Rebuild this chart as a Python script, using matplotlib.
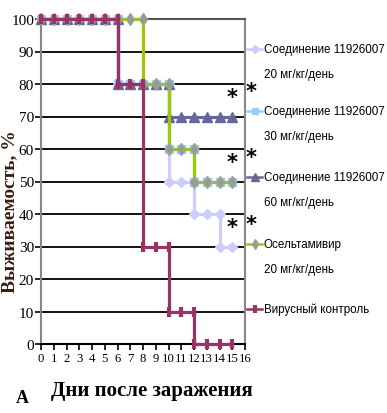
import matplotlib
matplotlib.use('Agg')
import matplotlib.pyplot as plt
from matplotlib.lines import Line2D

plt.rcParams['font.family'] = ['Liberation Serif', 'DejaVu Serif']

# survival, % of animals alive on each day after infection
days = [0, 1, 2, 3, 4, 5, 6, 7, 8, 9, 10, 11, 12, 13, 14, 15]
comp_20 = [100, 100, 100, 100, 100, 100, 80, 80, 80, 80, 50, 50, 40, 40, 30, 30]
comp_30 = [100, 100, 100, 100, 100, 100, 80, 80, 80, 80, 60, 60, 50, 50, 50, 50]
comp_60 = [100, 100, 100, 100, 100, 100, 80, 80, 80, 80, 70, 70, 70, 70, 70, 70]
oselt = [100, 100, 100, 100, 100, 100, 100, 100, 80, 80, 60, 60, 50, 50, 50, 50]
virus = [100, 100, 100, 100, 100, 100, 80, 80, 30, 30, 10, 10, 0, 0, 0, 0]

labels = ['Соединение 11926007\n20 мг/кг/день',
          'Соединение 11926007\n30 мг/кг/день',
          'Соединение 11926007\n60 мг/кг/день',
          'Осельтамивир\n20 мг/кг/день',
          'Вирусный контроль']
series = [comp_20, comp_30, comp_60, oselt, virus]
starred_plot = [0, 2, 3]     # series with * at the end of the curve
starred_legend = [1, 2, 3]   # legend entries with * above them

styles = [
    dict(color='#CCCCFF', marker='D', ms=5, mfc='#CCCCFF', mec='#CCCCFF'),
    dict(color='#99CCFF', marker='s', ms=6, mfc='#99CCFF', mec='#99CCFF'),
    dict(color='#666699', marker='^', ms=7, mfc='#666699', mec='#666699'),
    dict(color='#99CC00', marker='d', ms=6.5, mfc='#999999', mec='#9aa68a'),
    dict(color='#993366', marker='|', ms=7, mew=3, mfc='#993366', mec='#993366'),
]


def step_points(x, y):
    # survival curve: vertical drop on the day, point at both ends of the drop
    xs, ys = [x[0]], [y[0]]
    for i in range(1, len(x)):
        if y[i] != y[i - 1]:
            xs.append(x[i])
            ys.append(y[i - 1])
        xs.append(x[i])
        ys.append(y[i])
    return xs, ys


W, H = 387, 414
fig = plt.figure(figsize=(W / 100, H / 100), dpi=100)
ax = fig.add_axes([41 / W, 1 - 345 / H, 204 / W, 325 / H])

for vals, st in zip(series, styles):
    xs, ys = step_points(days, vals)
    ax.plot(xs, ys, lw=2.3, clip_on=False, zorder=3, **st)

for i in starred_plot:
    ax.annotate('*', xy=(days[-1], series[i][-1]), xytext=(0, 7),
                textcoords='offset points', ha='center', va='bottom',
                fontsize=15, fontweight='bold', family='DejaVu Sans')

ax.set_xlim(0, 16)
ax.set_ylim(0, 100)
ax.set_xticks(range(0, 17))
ax.set_yticks(range(0, 101, 10))
ax.yaxis.grid(True, color='black', lw=1.3)
ax.set_axisbelow(True)
for s in ['left', 'right', 'top']:
    ax.spines[s].set_color('#888888')
    ax.spines[s].set_linewidth(1.5)
ax.spines['top'].set_color('#555555')
ax.spines['bottom'].set_color('black')
ax.spines['bottom'].set_linewidth(1.5)
ax.tick_params(direction='out', length=4, width=1.2, color='black', pad=1)
ax.tick_params(axis='y', labelsize=11)
ax.tick_params(axis='x', labelsize=9.2, pad=2)

fig.text(10 / W, 1 - 212 / H, 'Выживаемость, %', rotation=90, ha='center',
         va='center', fontsize=14, fontweight='bold', color='#3a1e10')
fig.text(152 / W, 1 - 391 / H, 'Дни после заражения', ha='center',
         va='center', fontsize=15, fontweight='bold')
fig.text(22 / W, 1 - 399 / H, 'A', ha='center', va='center',
         fontsize=13, fontweight='bold')

# legend drawn at the right, marker aligned with the first text line
entry_y = [50, 112, 178, 245, 310]
for i, (lab, st) in enumerate(zip(labels, styles)):
    y = 1 - entry_y[i] / H
    mk = dict(st)
    mk['ms'] = mk['ms'] * 0.8
    fig.add_artist(Line2D([247 / W, 254.5 / W, 262 / W], [y, y, y],
                          transform=fig.transFigure, lw=1.8, markevery=[1], **mk))
    for k, line in enumerate(lab.split('\n')):
        fig.text(264 / W, y - k * 25 / H, line, ha='left', va='center',
                 fontsize=8.4, family=['Liberation Sans', 'DejaVu Sans'])
    if i in starred_legend:
        fig.text(251 / W, y + 20 / H, '*', ha='center', va='center',
                 fontsize=15, fontweight='bold', family='DejaVu Sans')

fig.savefig('out.png', dpi=100)
